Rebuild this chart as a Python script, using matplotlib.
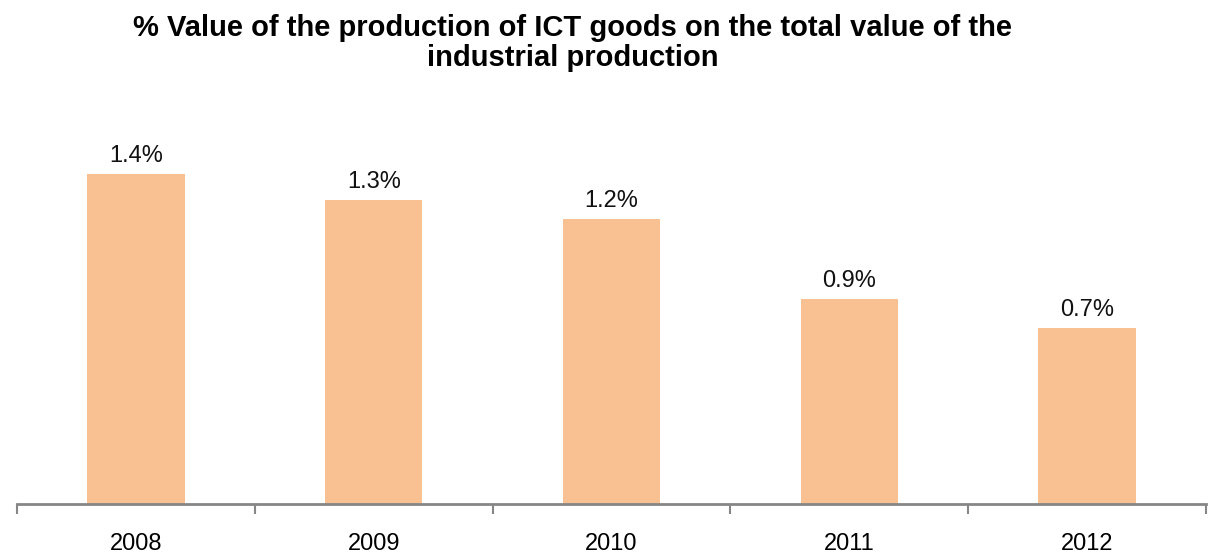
import matplotlib.pyplot as plt

years = ["2008", "2009", "2010", "2011", "2012"]
values = [1.40, 1.29, 1.21, 0.87, 0.745]

plt.rcParams["font.family"] = ["Liberation Sans", "DejaVu Sans"]

fig = plt.figure(figsize=(12.08, 5.56), dpi=100)
ax = fig.add_axes([17 / 1208, 52 / 556, 1189 / 1208, 377 / 556])

x = list(range(len(years)))
bars = ax.bar(x, values, width=0.41, color="#F9C192", zorder=2)
for b, v in zip(bars, values):
    ax.text(b.get_x() + b.get_width() / 2, v + 0.03, "{0:.1f}%".format(v),
            ha="center", va="bottom", fontsize=17, color="#111111")

ax.set_xlim(-0.5, 4.5)
ax.set_ylim(0, 1.6)
ax.set_yticks([])
for s in ["top", "right", "left"]:
    ax.spines[s].set_visible(False)
ax.spines["bottom"].set_color("#868686")
ax.spines["bottom"].set_linewidth(2)

ax.set_xticks([i - 0.5 for i in range(len(years) + 1)])
ax.set_xticklabels([])
ax.set_xticks(x, minor=True)
ax.set_xticklabels(years, minor=True, fontsize=17)
ax.tick_params(axis="x", which="major", length=7, width=1.5, color="#868686")
ax.tick_params(axis="x", which="minor", length=0, pad=21)

fig.text(0.474, 0.923, "% Value of the production of ICT goods on the total value of the\nindustrial production",
         ha="center", va="center", fontsize=21, fontweight="bold", linespacing=1.1)

fig.savefig("out.png", dpi=100)
